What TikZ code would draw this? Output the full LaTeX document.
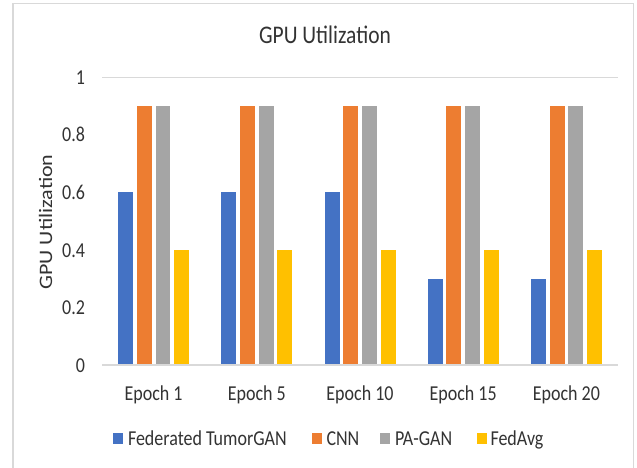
\documentclass[tikz,border=0pt]{standalone}
\usepackage{fontspec}
\setmainfont{Carlito}
\definecolor{tgblue}{HTML}{4472C4}
\definecolor{cnnorange}{HTML}{ED7D31}
\definecolor{pagray}{HTML}{A5A5A5}
\definecolor{fedyellow}{HTML}{FFC000}
\definecolor{gridgray}{HTML}{D9D9D9}
\definecolor{txtgray}{HTML}{333333}
\begin{document}
\begin{tikzpicture}[x=1pt,y=-1pt,
  lbl/.style={inner sep=0pt,outer sep=0pt,text=txtgray,font=\fontsize{18}{18}\selectfont,yscale=1.18,transform shape},
  ttl/.style={inner sep=0pt,outer sep=0pt,text=txtgray,font=\fontsize{21.5}{22}\selectfont,yscale=1.18,transform shape},
  axttl/.style={inner sep=0pt,outer sep=0pt,text=txtgray,font=\fontsize{19}{19}\selectfont,rotate=90,xscale=1.16,transform shape},
  gridline/.style={draw=gridgray,line width=1.2pt},
  legbox/.style={inner sep=0pt,outer sep=0pt,minimum width=10pt,minimum height=11.5pt}]
\useasboundingbox (0,0) rectangle (637,468);
\clip (0,0) rectangle (637,468);
\fill[white] (0,0) rectangle (637,468);
% frame
\draw[draw=gridgray,line width=1.5pt] (13,3.5) rectangle (633.5,480);
% title
\node[ttl,anchor=base] (title) at (325,44) {GPU Utilization};
% gridlines and tick labels
\foreach \v/\t in {0/0,0.2/0.2,0.4/0.4,0.6/0.6,0.8/0.8,1/1}{
  \coordinate (gl\t) at (102,{365-287.5*\v});
  \coordinate (gr\t) at (618,{365-287.5*\v});
  \draw[gridline] (gl\t) -- (gr\t);
  \node[lbl,anchor=base east] (tick\t) at (85,{365-287.5*\v+7}) {\t};
}
% axis title
\node[axttl,anchor=center] (axtitle) at (45.5,222) {GPU Utilization};
% bars
\foreach \e/\a/\b/\c/\d [count=\k] in {1/0.6/0.9/0.9/0.4,5/0.6/0.9/0.9/0.4,10/0.6/0.9/0.9/0.4,15/0.3/0.9/0.9/0.4,20/0.3/0.9/0.9/0.4}{
  \pgfmathsetmacro\cx{102+103.2*(\k-0.5)}
  \fill[tgblue] ({\cx-35.5},365) rectangle ({\cx-20.5},{365-287.5*\a});
  \fill[cnnorange] ({\cx-16.8},365) rectangle ({\cx-1.9},{365-287.5*\b});
  \fill[pagray] ({\cx+1.9},365) rectangle ({\cx+16.8},{365-287.5*\c});
  \fill[fedyellow] ({\cx+20.5},365) rectangle ({\cx+35.5},{365-287.5*\d});
  \node[lbl,anchor=base] (cat\k) at (\cx,400) {Epoch \e};
}
\draw[gridline] (gl0) -- (gr0);
% legend
\node[legbox,fill=tgblue,anchor=west] (lb1) at (113,438.5) {};
\node[lbl,anchor=base west] (lt1) at (128,445) {Federated TumorGAN};
\node[legbox,fill=cnnorange,anchor=west] (lb2) at (312,438.5) {};
\node[lbl,anchor=base west] (lt2) at (326.5,445) {CNN};
\node[legbox,fill=pagray,anchor=west] (lb3) at (380,438.5) {};
\node[lbl,anchor=base west] (lt3) at (395,445) {PA-GAN};
\node[legbox,fill=fedyellow,anchor=west] (lb4) at (476.5,438.5) {};
\node[lbl,anchor=base west] (lt4) at (490.5,445) {FedAvg};
\end{tikzpicture}
\end{document}
